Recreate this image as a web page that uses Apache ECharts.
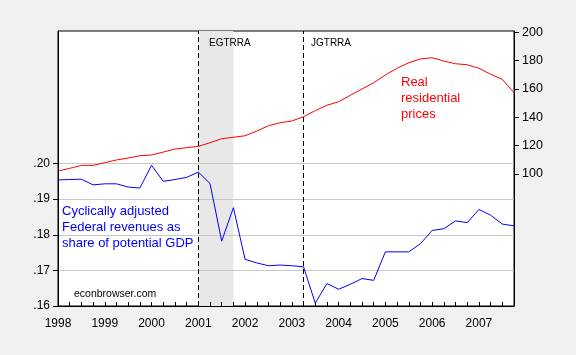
<!DOCTYPE html>
<html><head><meta charset="utf-8">
<script src="https://cdn.jsdelivr.net/npm/echarts@6/dist/echarts.min.js"></script>
<style>html,body{margin:0;padding:0;background:#f0f0f0}#c{width:576px;height:355px}</style>
</head><body><div id="c"></div>
<script>
const quarters = [
 '1998Q1','1998Q2','1998Q3','1998Q4','1999Q1','1999Q2','1999Q3','1999Q4',
 '2000Q1','2000Q2','2000Q3','2000Q4','2001Q1','2001Q2','2001Q3','2001Q4',
 '2002Q1','2002Q2','2002Q3','2002Q4','2003Q1','2003Q2','2003Q3','2003Q4',
 '2004Q1','2004Q2','2004Q3','2004Q4','2005Q1','2005Q2','2005Q3','2005Q4',
 '2006Q1','2006Q2','2006Q3','2006Q4','2007Q1','2007Q2','2007Q3','2007Q4'];
const revenueShare = [
 0.1954,0.1955,0.1956,0.1940,0.1943,0.1943,0.1934,0.1931,
 0.1995,0.1950,0.1955,0.1961,0.1976,0.1944,0.1782,0.1876,
 0.1731,0.1721,0.1713,0.1715,0.1713,0.1710,0.1608,0.1663,
 0.1647,0.1661,0.1677,0.1672,0.1752,0.1752,0.1752,0.1775,
 0.1812,0.1817,0.1839,0.1834,0.1871,0.1855,0.1830,0.1825];
const realHousePrices = [
 102.1,104.0,106.1,106.1,108.0,109.9,111.3,112.9,
 113.4,115.5,117.6,118.6,119.5,122.1,124.9,125.9,
 127.0,130.3,134.1,136.2,137.4,140.4,144.7,148.5,
 151.0,155.5,160.0,164.4,169.9,174.6,178.5,181.2,
 182.1,179.7,177.8,177.1,174.6,170.4,166.8,157.4];
const leftTicks = [0.16,0.17,0.18,0.19,0.20];
const rightTicks = [100,120,140,160,180,200];
const taxActs = [['EGTRRA','2001Q1'],['JGTRRA','2003Q2']];
const recession = ['2001Q1','2001Q4'];

const FONT = '"Liberation Sans", Arial, sans-serif';
const chart = echarts.init(document.getElementById('c'), null, {renderer:'canvas'});
chart.setOption({
  animation:false,
  backgroundColor:'#f0f0f0',
  grid:{left:58, right:62, top:31, bottom:49, show:true, backgroundColor:'#fff', borderColor:'#000', borderWidth:1},
  xAxis:{type:'category', data:quarters, boundaryGap:false, z:2,
    axisLine:{lineStyle:{color:'#000', width:1}},
    axisTick:{inside:true, length:4, interval:0, lineStyle:{color:'#000'}},
    axisLabel:{interval:(i,v)=>v.endsWith('Q1'), formatter:v=>v.slice(0,4), color:'#000', fontSize:12, fontFamily:FONT, margin:12},
    splitLine:{show:false}},
  yAxis:[
    {type:'value', position:'left', min:0.16, max:0.2372, z:2,
     axisLine:{show:true, lineStyle:{color:'#000'}},
     axisTick:{show:true, length:5, customValues:leftTicks, lineStyle:{color:'#000'}},
     axisLabel:{customValues:leftTicks, formatter:v=>v.toFixed(2).replace(/^0/,''), color:'#000', fontSize:12, fontFamily:FONT, margin:8},
     splitLine:{show:true, lineStyle:{color:'#c8c8c8', width:1}}},
    {type:'value', position:'right', min:6.9, max:200.9, z:2,
     axisLine:{show:true, lineStyle:{color:'#000'}},
     axisTick:{show:true, length:5, customValues:rightTicks, lineStyle:{color:'#000'}},
     axisLabel:{customValues:rightTicks, color:'#000', fontSize:12.5, fontFamily:FONT, margin:8},
     splitLine:{show:false}}
  ],
  series:[
    {type:'line', name:'events', yAxisIndex:1, data:[], z:1, silent:true,
     markArea:{silent:true, itemStyle:{color:'#e8e8e8'}, data:[[{xAxis:recession[0]},{xAxis:recession[1]}]]}},
    {type:'line', name:'Real residential prices', yAxisIndex:1, data:realHousePrices, showSymbol:false, symbol:'none',
     lineStyle:{color:'#ff0000', width:1}, z:3,
     markLine:{silent:true, symbol:'none', label:{show:false}, lineStyle:{color:'#000', type:[5,3], width:1},
       data:taxActs.map(a=>({xAxis:a[1]}))}},
    {type:'line', name:'Revenue share', yAxisIndex:0, data:revenueShare, showSymbol:false, symbol:'none',
     lineStyle:{color:'#0000ff', width:1}, z:4}
  ],
  graphic:[
    {type:'text', z:100, left:209, top:38, style:{text:taxActs[0][0], font:'10px '+FONT, fill:'#000'}},
    {type:'text', z:100, left:311, top:38, style:{text:taxActs[1][0], font:'10px '+FONT, fill:'#000'}},
    {type:'text', z:100, left:401, top:74, style:{text:'Real\nresidential\nprices', font:'13px '+FONT, fill:'#ff0000', lineHeight:16}},
    {type:'text', z:100, left:62, top:203, style:{text:'Cyclically adjusted\nFederal revenues as\nshare of potential GDP', font:'13px '+FONT, fill:'#0000ff', lineHeight:16}},
    {type:'text', z:100, left:74, top:289, style:{text:'econbrowser.com', font:'10.5px '+FONT, fill:'#000'}}
  ]
});
</script></body></html>
